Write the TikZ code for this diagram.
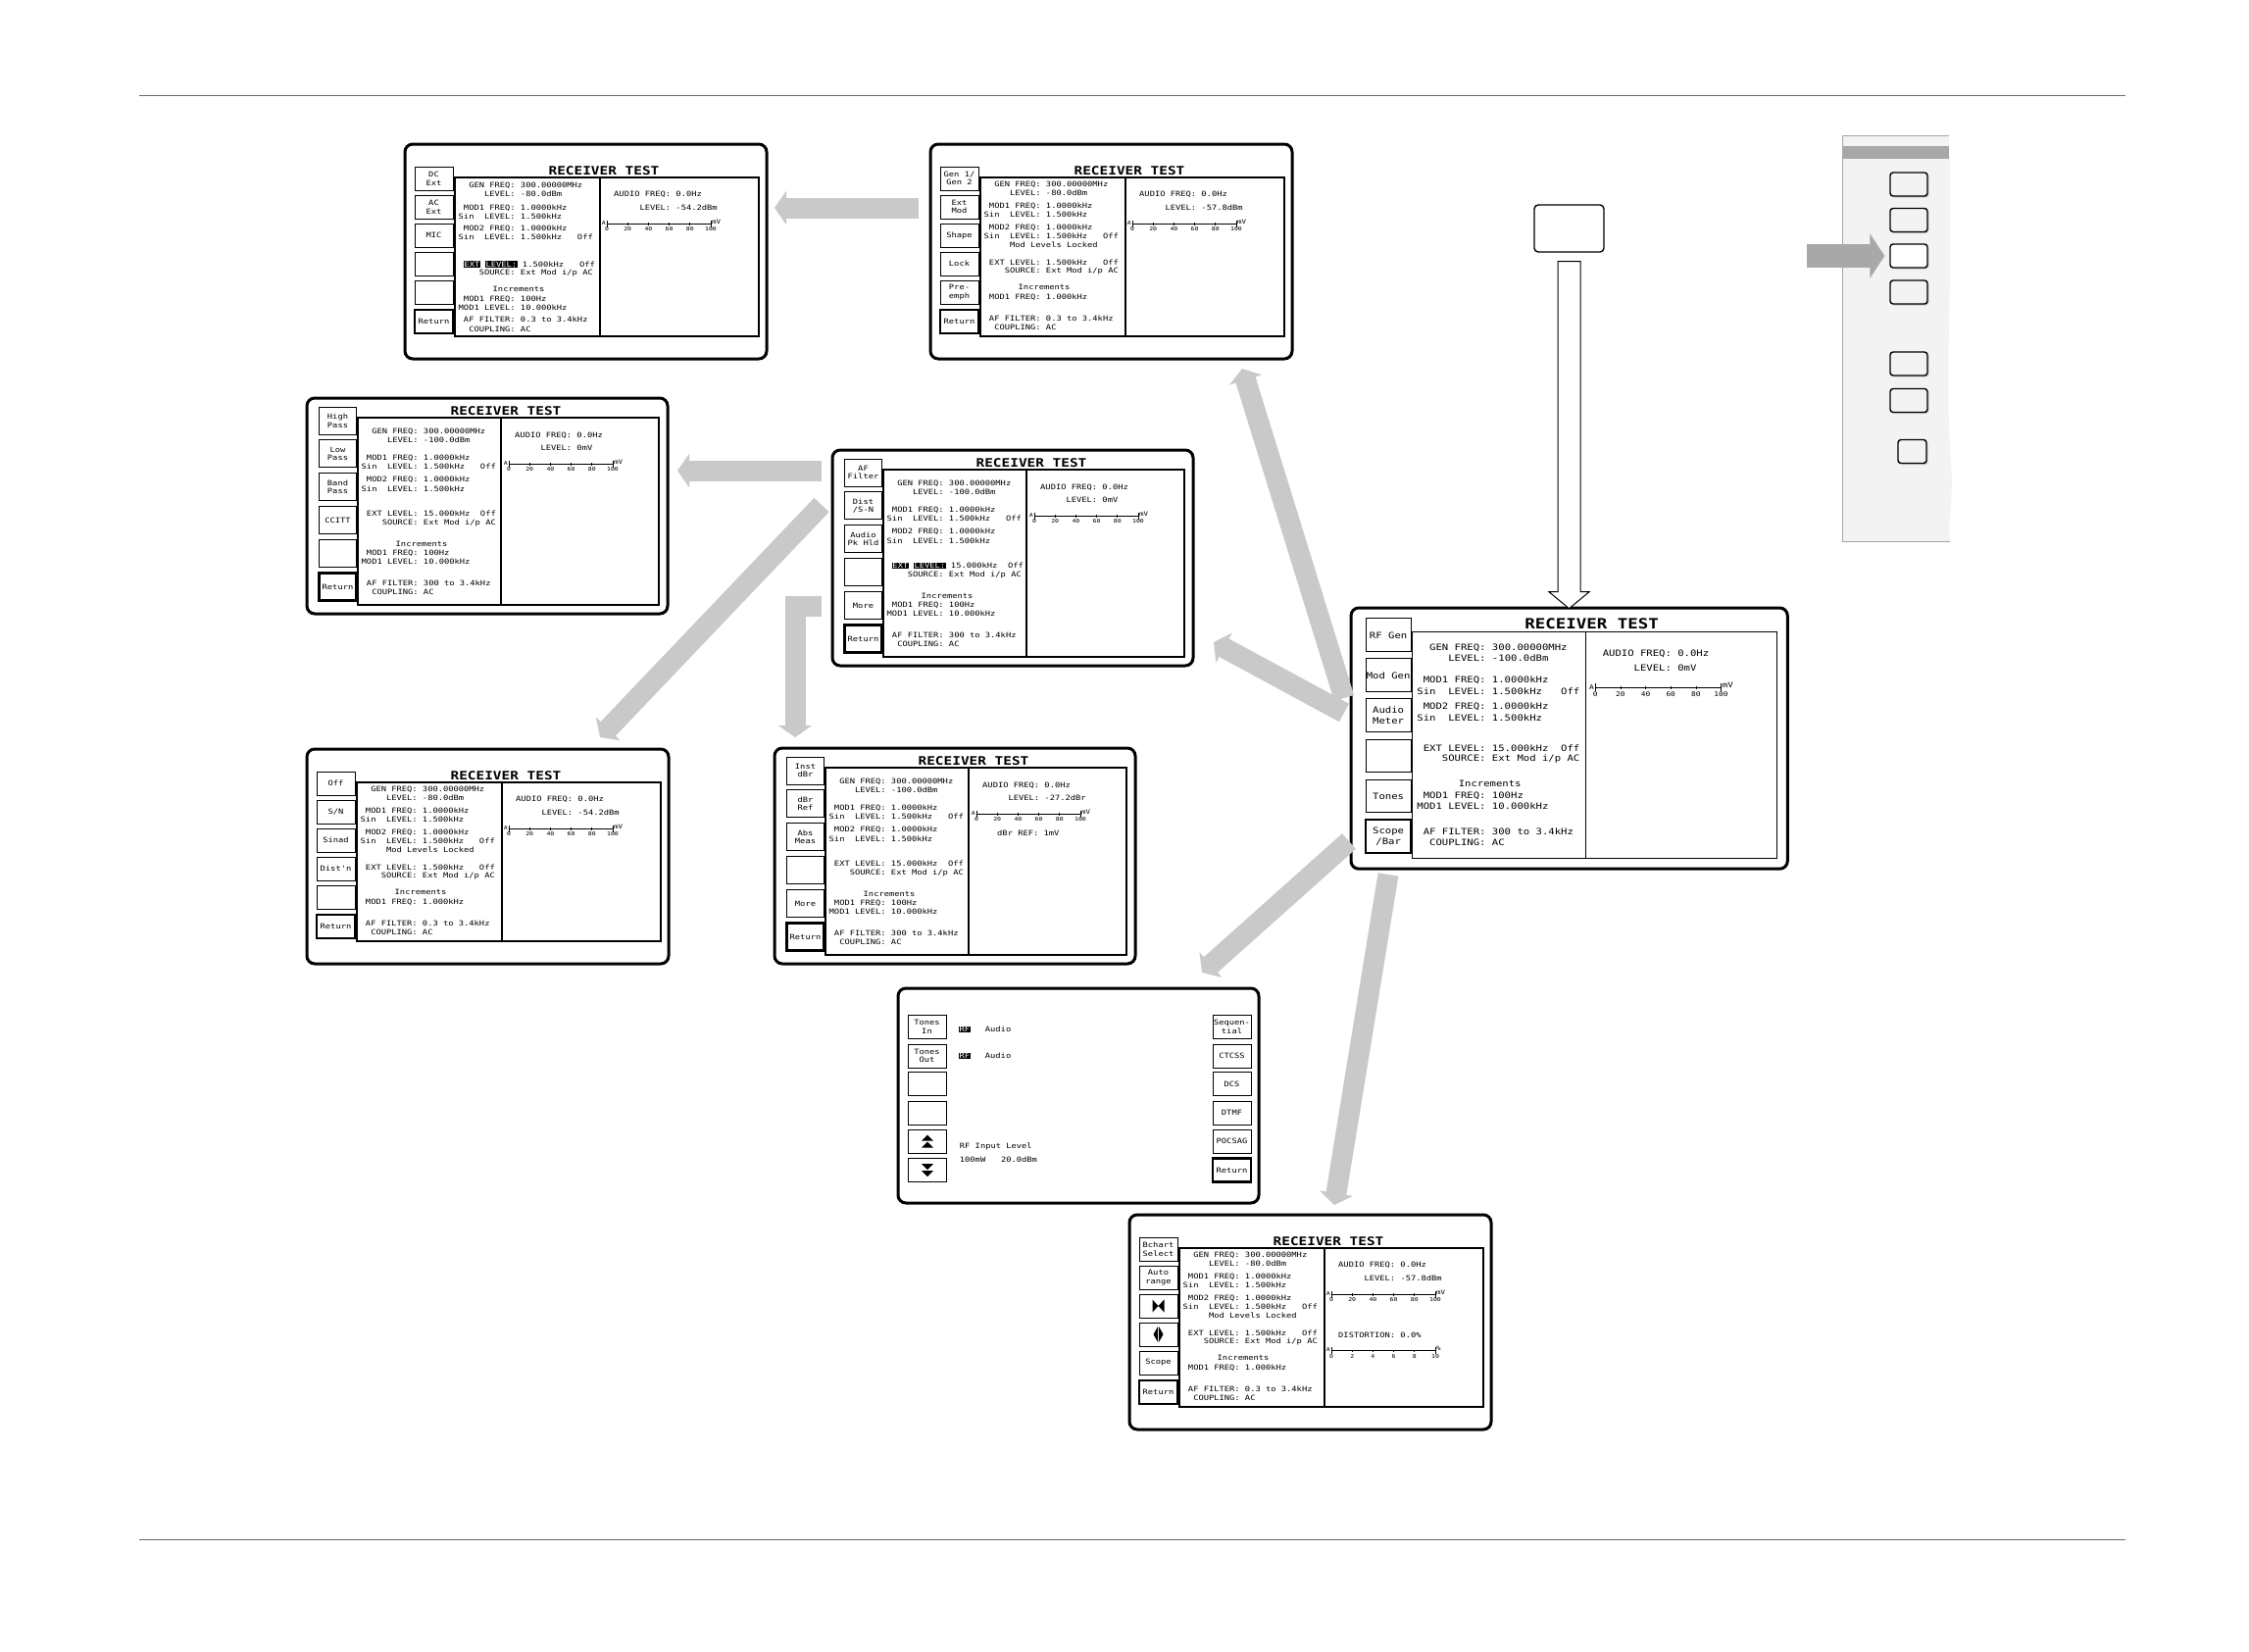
\documentclass[tikz,border=0pt]{standalone}
\usepackage{fontspec}
\usepackage{xcolor}
\usetikzlibrary{arrows.meta,shadows}
\newfontfamily\lcdfont{DejaVu Sans Mono}[FakeStretch=1.2]
\definecolor{arrowgrey}{HTML}{C9C9C9}
\definecolor{tabgrey}{HTML}{A8A8A8}
\definecolor{panelgrey}{HTML}{F3F3F3}
\definecolor{rulegrey}{HTML}{6A6A6A}
\tikzset{
  lcd/.style={anchor=west,inner sep=0pt,font=\lcdfont\fontsize{7.3}{8.6}\selectfont\frenchspacing},
  lcdtiny/.style={inner sep=0pt,font=\lcdfont\fontsize{5.4}{6}\selectfont},
  lcdunit/.style={inner sep=0pt,anchor=south west,font=\lcdfont\fontsize{6.2}{6.5}\selectfont},
  lcdline/.style={line width=0.7pt},
  scrtitle/.style={inner sep=0pt,font=\lcdfont\bfseries\fontsize{12}{12}\selectfont},
  scrframe/.style={draw,line width=3pt,rounded corners=8pt,fill=white,inner sep=0pt,
                   minimum width=369pt,minimum height=219pt},
  panel/.style={line width=1.1pt},
  softkey/.style={draw,line width=0.9pt,minimum width=39pt,minimum height=24pt,inner sep=0pt,
                  align=center,font=\lcdfont\fontsize{7.3}{8.6}\selectfont\frenchspacing},
  retkey/.style={softkey,line width=2.2pt},
  keyB/.style={softkey,minimum width=38pt,minimum height=28pt},
  retkeyB/.style={keyB,line width=2.2pt},
  bigarrow/.style={draw=arrowgrey,line width=21pt,-{Triangle[width=34pt,length=12pt]}},
  sidearrow/.style={draw=tabgrey,line width=24pt,-{Triangle[width=45pt,length=15pt]}},
  sidebtn/.style={draw,line width=1.4pt,rounded corners=3pt,minimum width=38pt,minimum height=24pt,
                  inner sep=0pt,drop shadow={shadow xshift=1.5pt,shadow yshift=-1.5pt,opacity=.35}}
}
\newcounter{lcdno}
\newcommand\lcdtxt[3]{\stepcounter{lcdno}\node[lcd] (lcd\arabic{lcdno}) at (#1,#2) {#3};}
\newcommand\inv[1]{{\setlength\fboxsep{0.5pt}\colorbox{black}{\textcolor{white}{#1}}}}
\def\cxA{54.5}
\def\cxB{55.5}
% screen bodies
\newcommand\scrA[1]{%
  \node[scrframe] (#1) at (184.5,109.5) {};
  \draw[panel] (51,34) rectangle (361,196) (199,34) -- (199,196);
  \node[scrtitle] (#1t) at (203,27.5) {RECEIVER TEST};}
\newcommand\scrB[1]{%
  \node[scrframe,minimum width=368pt,minimum height=220pt] (#1) at (184,110) {};
  \draw[panel] (52,20) rectangle (359,211) (198,20) -- (198,211);
  \node[scrtitle] (#1t) at (203,13.5) {RECEIVER TEST};}
\newcommand\keysA[7]{%
  \node[softkey] (#1k1) at (29.5,35) {#2};
  \node[softkey] (#1k2) at (29.5,64) {#3};
  \node[softkey] (#1k3) at (29.5,93) {#4};
  \node[softkey] (#1k4) at (29.5,122) {#5};
  \node[softkey] (#1k5) at (29.5,151) {#6};
  \node[retkey] (#1k6) at (29.5,181) {#7};}
\newcommand\keysB[7]{%
  \node[keyB] (#1k1) at (31.5,23) {#2};
  \node[keyB] (#1k2) at (31.5,56.9) {#3};
  \node[keyB] (#1k3) at (31.5,90.8) {#4};
  \node[keyB] (#1k4) at (31.5,124.7) {#5};
  \node[keyB] (#1k5) at (31.5,158.6) {#6};
  \node[retkeyB] (#1k6) at (31.5,192.5) {#7};}
\newcommand\lcdbar[3]{%
  \draw[lcdline] (206,#1) -- (312,#1) (206,#1-3.5) -- (206,#1+3) (312,#1-3.5) -- (312,#1+3);
  \foreach \l [count=\i from 0] in {#3}{%
    \draw[lcdline] (206+21.2*\i,#1-1.2) -- (206+21.2*\i,#1+1.2);
    \node[lcdtiny] (tick\i) at (206+21.2*\i,#1+5.5) {\l};}
  \node[lcdtiny,anchor=east] (tickA) at (205,#1-0.8) {A};
  \node[lcdunit] (tickU) at (313,#1) {#2};}
\newcommand\leftA{%
  \lcdtxt{\cxA}{41.5}{~~GEN FREQ: 300.00000MHz}
  \lcdtxt{\cxA}{50}{~~~~~LEVEL: -80.0dBm}
  \lcdtxt{\cxA}{63.5}{~MOD1 FREQ: 1.0000kHz}
  \lcdtxt{\cxA}{72}{Sin~~LEVEL: 1.500kHz}
  \lcdtxt{\cxA}{85.5}{~MOD2 FREQ: 1.0000kHz}
  \lcdtxt{\cxA}{94}{Sin~~LEVEL: 1.500kHz~~~Off}
  \lcdtxt{\cxA}{102.5}{~~~~~Mod Levels Locked}
  \lcdtxt{\cxA}{120.5}{~EXT LEVEL: 1.500kHz~~~Off}
  \lcdtxt{\cxA}{129}{~~~~SOURCE: Ext Mod i/p AC}
  \lcdtxt{\cxA+35}{145.5}{Increments}
  \lcdtxt{\cxA}{156}{~MOD1 FREQ: 1.000kHz}
  \lcdtxt{\cxA}{178}{~AF FILTER: 0.3 to 3.4kHz}
  \lcdtxt{\cxA}{187}{~~COUPLING: AC}}
\newcommand\leftB[1]{%
  \lcdtxt{\cxB}{34}{~~GEN FREQ: 300.00000MHz}
  \lcdtxt{\cxB}{42.5}{~~~~~LEVEL: -100.0dBm}
  \lcdtxt{\cxB}{61}{~MOD1 FREQ: 1.0000kHz}
  \lcdtxt{\cxB}{70}{Sin~~LEVEL: 1.500kHz~~~Off}
  \lcdtxt{\cxB}{83.5}{~MOD2 FREQ: 1.0000kHz}
  \lcdtxt{\cxB}{92.5}{Sin~~LEVEL: 1.500kHz}
  \lcdtxt{\cxB}{118}{#1}
  \lcdtxt{\cxB}{127}{~~~~SOURCE: Ext Mod i/p AC}
  \lcdtxt{\cxB+35}{148.5}{Increments}
  \lcdtxt{\cxB}{158.5}{~MOD1 FREQ: 100Hz}
  \lcdtxt{\cxB}{167}{MOD1 LEVEL: 10.000kHz}
  \lcdtxt{\cxB}{189}{~AF FILTER: 300 to 3.4kHz}
  \lcdtxt{\cxB}{198}{~~COUPLING: AC}}
\newcommand\rightA[1]{%
  \lcdtxt{213}{51.5}{AUDIO FREQ: 0.0Hz}
  \lcdtxt{213}{65}{~~~~~LEVEL: #1}
  \lcdbar{81.5}{mV}{0,20,40,60,80,100}}
\newcommand\rightB[1]{%
  \lcdtxt{212}{38.5}{AUDIO FREQ: 0.0Hz}
  \lcdtxt{212}{51}{~~~~~LEVEL: #1}
  \lcdbar{67.5}{mV}{0,20,40,60,80,100}}

\begin{document}
\begin{tikzpicture}[x=1pt,y=-1pt]
  \useasboundingbox (0,0) rectangle (2294,1684);
  \draw[rulegrey,line width=1pt] (142,97) -- (2168,97);
  \draw[rulegrey,line width=1pt] (142,1570) -- (2168,1570);

  % ext mod screen
  \begin{scope}[shift={(413,147)}]
    \scrA{s1}
    \keysA{s1}{DC\\Ext}{AC\\Ext}{MIC}{}{}{Return}
    \lcdtxt{\cxA}{42.5}{~~GEN FREQ: 300.00000MHz}
    \lcdtxt{\cxA}{51}{~~~~~LEVEL: -80.0dBm}
    \lcdtxt{\cxA}{65}{~MOD1 FREQ: 1.0000kHz}
    \lcdtxt{\cxA}{73.5}{Sin~~LEVEL: 1.500kHz}
    \lcdtxt{\cxA}{86.5}{~MOD2 FREQ: 1.0000kHz}
    \lcdtxt{\cxA}{95}{Sin~~LEVEL: 1.500kHz~~~Off}
    \lcdtxt{\cxA}{122.5}{~\inv{EXT} \inv{LEVEL:} 1.500kHz~~~Off}
    \lcdtxt{\cxA}{131}{~~~~SOURCE: Ext Mod i/p AC}
    \lcdtxt{\cxA+35}{147.5}{Increments}
    \lcdtxt{\cxA}{158}{~MOD1 FREQ: 100Hz}
    \lcdtxt{\cxA}{167}{MOD1 LEVEL: 10.000kHz}
    \lcdtxt{\cxA}{179}{~AF FILTER: 0.3 to 3.4kHz}
    \lcdtxt{\cxA}{188.5}{~~COUPLING: AC}
    \rightA{-54.2dBm}
  \end{scope}

  % mod gen screen
  \begin{scope}[shift={(949,147)}]
    \scrA{s2}
    \keysA{s2}{Gen 1/\\Gen 2}{Ext\\Mod}{Shape}{Lock}{Pre-\\emph}{Return}
    \leftA
    \rightA{-57.8dBm}
  \end{scope}

  % af filter screen
  \begin{scope}[shift={(313,406)}]
    \scrB{s3}
    \keysB{s3}{High\\Pass}{Low\\Pass}{Band\\Pass}{CCITT}{}{Return}
    \leftB{~EXT LEVEL: 15.000kHz~~Off}
    \rightB{0mV}
  \end{scope}

  % audio meter screen
  \begin{scope}[shift={(849,459)}]
    \scrB{s4}
    \keysB{s4}{AF\\Filter}{Dist\\/S-N}{Audio\\Pk Hld}{}{More}{Return}
    \leftB{~\inv{EXT} \inv{LEVEL:} 15.000kHz~~Off}
    \rightB{0mV}
  \end{scope}

  % receiver test main screen
  \begin{scope}[shift={(1378,620)},scale=1.21,transform shape]
    \scrB{s5}
    \keysB{s5}{RF Gen}{Mod Gen}{Audio\\Meter}{}{Tones}{Scope\\/Bar}
    \leftB{~EXT LEVEL: 15.000kHz~~Off}
    \rightB{0mV}
  \end{scope}

  % dist / s-n screen
  \begin{scope}[shift={(313,764)}]
    \scrA{s6}
    \keysA{s6}{Off}{S/N}{Sinad}{Dist'n}{}{Return}
    \leftA
    \rightA{-54.2dBm}
  \end{scope}

  % more screen
  \begin{scope}[shift={(790,763)}]
    \scrB{s7}
    \keysB{s7}{Inst\\dBr}{dBr\\Ref}{Abs\\Meas}{}{More}{Return}
    \leftB{~EXT LEVEL: 15.000kHz~~Off}
    \rightB{-27.2dBr}
    \lcdtxt{227}{86.5}{dBr REF: 1mV}
  \end{scope}

  % tones screen
  \begin{scope}[shift={(916,1008)}]
    \node[scrframe,minimum width=368pt] (s8) at (184,109.5) {};
    \node[softkey] (s8k1) at (29.5,39.5) {Tones\\In};
    \node[softkey] (s8k2) at (29.5,69) {Tones\\Out};
    \node[softkey] (s8k3) at (29.5,97.5) {};
    \node[softkey] (s8k4) at (29.5,127) {};
    \node[softkey] (s8k5) at (29.5,156) {};
    \node[softkey] (s8k6) at (29.5,185.5) {};
    \node[softkey] (s8r1) at (340.5,39.5) {Sequen-\\tial};
    \node[softkey] (s8r2) at (340.5,69) {CTCSS};
    \node[softkey] (s8r3) at (340.5,97.5) {DCS};
    \node[softkey] (s8r4) at (340.5,127) {DTMF};
    \node[softkey] (s8r5) at (340.5,156) {POCSAG};
    \node[retkey] (s8r6) at (340.5,185.5) {Return};
    \fill (30,149.5) -- (36,155.5) -- (24,155.5) -- cycle (30,156.5) -- (36,162.5) -- (24,162.5) -- cycle;
    \fill (24,179) -- (36,179) -- (30,185) -- cycle (24,186) -- (36,186) -- (30,192) -- cycle;
    \lcdtxt{62}{41.7}{\inv{RF}}
    \lcdtxt{88.7}{41.7}{Audio}
    \lcdtxt{62}{68.7}{\inv{RF}}
    \lcdtxt{88.7}{68.7}{Audio}
    \lcdtxt{62.7}{161}{RF Input Level}
    \lcdtxt{62.7}{175}{100mW~~~20.0dBm}
  \end{scope}

  % scope / bar screen
  \begin{scope}[shift={(1152,1239)}]
    \scrA{s9}
    \keysA{s9}{Bchart\\Select}{Auto\\range}{}{}{Scope}{Return}
    \fill (23.5,86.5) -- (23.5,99.5) -- (29.5,93) -- cycle (35.5,86.5) -- (35.5,99.5) -- (29.5,93) -- cycle;
    \fill (29,114) -- (29,130) -- (24.5,122) -- cycle (30,114) -- (30,130) -- (34.5,122) -- cycle;
    \leftA
    \rightA{-57.8dBm}
    \lcdtxt{213}{123}{DISTORTION: 0.0\%}
    \lcdbar{138.7}{\%}{0,2,4,6,8,10}
  \end{scope}

  % key panel
  \fill[panelgrey] (1879,138) -- (1988,138) .. controls (1993,260) and (1983,380) .. (1990,470)
    .. controls (1993,510) and (1986,535) .. (1989,552) -- (1879,552) -- cycle;
  \draw[gray!70,line width=0.8pt] (1988,138) -- (1879,138) -- (1879,552) -- (1989,552);
  \fill[tabgrey] (1879,149) rectangle (1988,162);
  \foreach \i/\yy/\col in {1/188/panelgrey,2/224.5/panelgrey,3/261/white,4/298/panelgrey,5/371/panelgrey,6/408.5/panelgrey}
    \node[sidebtn,fill=\col] (btn\i) at (1947,\yy) {};
  \node[sidebtn,fill=panelgrey,minimum width=29pt] (btn7) at (1950.5,460.5) {};
  \coordinate (sidetail) at (1843,261);
  \draw[sidearrow] (sidetail) -- ([xshift=-5pt]btn3.west);

  % receiver test key and pointer
  \node[draw,line width=1.4pt,rounded corners=4pt,minimum width=71pt,minimum height=48pt] (rxkey) at (1600.5,233) {};
  \draw[line width=1pt,fill=white,line join=miter] ([xshift=-11.5pt,yshift=-9pt]rxkey.south) -- ++(0,337) -- ++(-9,0)
    -- ++(20.5,17) -- ++(20.5,-17) -- ++(-9,0) -- ++(0,-337) -- cycle;

  % menu arrows
  \coordinate (a1s) at (937,212);  \coordinate (a1e) at (790,212);
  \coordinate (a2s) at (1371,712); \coordinate (a2e) at (1267,376);
  \coordinate (a3s) at (1371,727); \coordinate (a3e) at (1238,655);
  \coordinate (a4s) at (838,480);  \coordinate (a4e) at (691,480);
  \coordinate (a5s) at (838,515);  \coordinate (a5e) at (612,752);
  \coordinate (a6s) at (838,618.5); \coordinate (a6c) at (811,618.5); \coordinate (a6e) at (811,752);
  \coordinate (a7s) at (1376,858); \coordinate (a7e) at (1226,992);
  \coordinate (a8s) at (1416,892); \coordinate (a8e) at (1361,1229);
  \draw[bigarrow] (a1s) -- (a1e);
  \draw[bigarrow] (a2s) -- (a2e);
  \draw[bigarrow] (a3s) -- (a3e);
  \draw[bigarrow] (a4s) -- (a4e);
  \draw[bigarrow] (a5s) -- (a5e);
  \draw[bigarrow,line join=miter] (a6s) -- (a6c) -- (a6e);
  \draw[bigarrow] (a7s) -- (a7e);
  \draw[bigarrow] (a8s) -- (a8e);
\end{tikzpicture}
\end{document}
